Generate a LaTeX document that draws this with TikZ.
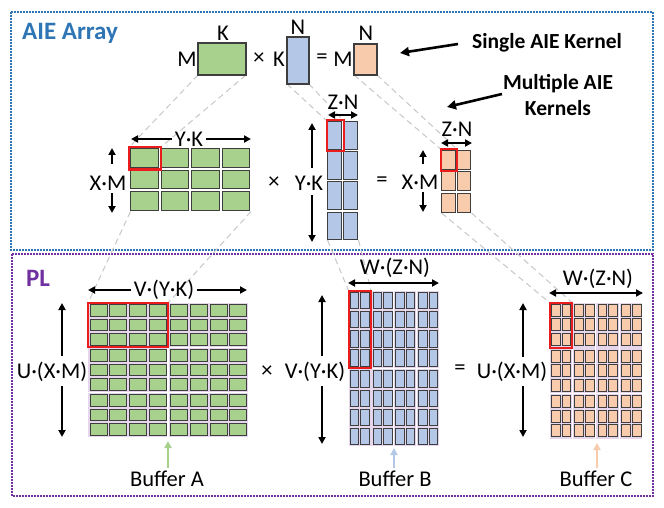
\documentclass[tikz,border=0pt]{standalone}
\usepackage{fontspec}
\setmainfont{Carlito}
\usetikzlibrary{arrows.meta}
\definecolor{aieblue}{RGB}{46,117,182}
\definecolor{plpurple}{RGB}{112,48,160}
\definecolor{tgreen}{RGB}{169,209,142}
\definecolor{tblue}{RGB}{180,199,231}
\definecolor{torange}{RGB}{248,203,173}
\definecolor{lav}{RGB}{230,214,236}
\definecolor{tedge}{RGB}{62,62,62}
\definecolor{projgray}{RGB}{200,200,200}
\definecolor{redbox}{RGB}{235,28,28}
\newcommand\tgrid[9]{%
  \foreach \ii in {1,...,#3}{\foreach \jj in {1,...,#4}{%
    \filldraw[fill=#9, draw=tedge, line width=0.9pt]
      ({#1+(\ii-1)*#5},{#2+(\jj-1)*#6}) rectangle ++(#7,#8);
  }}}
\tikzset{
  arr/.style={line width=2pt, -{Triangle[length=7pt,width=7pt]}},
  darr/.style={line width=2pt, {Triangle[length=7pt,width=7pt]}-{Triangle[length=7pt,width=7pt]}},
  bigarr/.style={line width=2.6pt, -{Triangle[length=9pt,width=9pt]}},
  bufarr/.style={line width=2pt, -{Triangle[length=7pt,width=7pt]}},
  lbl/.style={font=\fontsize{22.5}{25}\selectfont, inner sep=3pt},
  note/.style={font=\bfseries\fontsize{21.5}{25}\selectfont, align=center, inner sep=0pt},
  topbox/.style={draw=tedge, line width=1.1pt, inner sep=0pt, outer sep=0pt},
  rbox/.style={draw=redbox, line width=2pt, inner sep=0pt, outer sep=0pt},
  proj/.style={draw=projgray, line width=1pt, dash pattern=on 6pt off 4pt},
  region/.style={line width=1.8pt, dash pattern=on 1.6pt off 1.4pt},
}
\begin{document}
\begin{tikzpicture}[x=1pt, y=-1pt]
\useasboundingbox (0,0) rectangle (664,508);
\fill[white] (0,0) rectangle (664,508);

% region frames
\draw[region, aieblue] (11,12) rectangle (653,250);
\draw[region, plpurple] (12,254) rectangle (653,496);
\node[anchor=west, text=aieblue, font=\bfseries\fontsize{25}{28}\selectfont, inner sep=0pt] (aietitle) at (22,33) {AIE Array};
\node[anchor=west, text=plpurple, font=\bfseries\fontsize{25}{28}\selectfont, inner sep=0pt] (pltitle) at (26,278) {PL};

% nodes used as ends of projection lines
\node[topbox, fill=tgreen, minimum width=48pt, minimum height=32pt] (topA) at (222,59) {};
\node[topbox, fill=tblue, minimum width=22pt, minimum height=47pt] (topB) at (298,60.5) {};
\node[topbox, fill=torange, minimum width=23pt, minimum height=31pt] (topC) at (365.5,59.5) {};

\coordinate (gAsw) at (130.5,211.5); \coordinate (gAse) at (251,211.5);
\coordinate (gBsw) at (327.5,240);   \coordinate (gBse) at (358.5,240);
\coordinate (gCsw) at (441.5,213);   \coordinate (gCse) at (471.5,213);

\path (144.75,158.5) node[minimum width=31.5pt, minimum height=22pt, inner sep=0pt, outer sep=0pt] (redA) {};
\path (335,136) node[minimum width=17pt, minimum height=31pt, inner sep=0pt, outer sep=0pt] (redB) {};
\path (448.75,160) node[minimum width=16.5pt, minimum height=22pt, inner sep=0pt, outer sep=0pt] (redC) {};
\path (128,325) node[minimum width=80pt, minimum height=44pt, inner sep=0pt, outer sep=0pt] (redPA) {};
\path (359.75,329.25) node[minimum width=22.5pt, minimum height=77.5pt, inner sep=0pt, outer sep=0pt] (redPB) {};
\path (560.75,325.25) node[minimum width=22.5pt, minimum height=45.5pt, inner sep=0pt, outer sep=0pt] (redPC) {};

% projection lines
\draw[proj] (topA.south west) -- (redA.north west);
\draw[proj] (topA.south east) -- (redA.north east);
\draw[proj] (gAsw) -- (redPA.north west);
\draw[proj] (gAse) -- (redPA.north east);
\draw[proj] (topB.south west) -- (redB.north west);
\draw[proj] (topB.south east) -- (redB.north east);
\draw[proj] (gBsw) -- (redPB.north west);
\draw[proj] (gBse) -- (redPB.north east);
\draw[proj] (topC.south west) -- (redC.north west);
\draw[proj] (topC.south east) -- (redC.north east);
\draw[proj] (gCsw) -- (redPC.north west);
\draw[proj] (gCse) -- (redPC.north east);

% redraw top boxes over lines
\node[topbox, fill=tgreen, minimum width=48pt, minimum height=32pt] at (topA) {};
\node[topbox, fill=tblue, minimum width=22pt, minimum height=47pt] at (topB) {};
\node[topbox, fill=torange, minimum width=23pt, minimum height=31pt] at (topC) {};

% top labels
\node[lbl] (kA) at (223,33) {K};
\node[lbl] (mA) at (187,59) {M};
\node[lbl] (x1) at (259,59) {×};
\node[lbl] (kB) at (279,59) {K};
\node[lbl] (nB) at (298,27) {N};
\node[lbl] (eq1) at (322,59) {=};
\node[lbl] (mC) at (343,59) {M};
\node[lbl] (nC) at (366,33) {N};

% annotations
\node[note] (single) at (547,43) {Single AIE Kernel};
\node[note] (multi) at (558,95) {Multiple AIE\\[1pt]Kernels};
\coordinate (sgTip) at (400,53); \coordinate (sgTail) at (458,44);
\coordinate (mlTip) at (447,107); \coordinate (mlTail) at (502,94);
\draw[bigarr] (sgTail) -- (sgTip);
\draw[bigarr] (mlTail) -- (mlTip);

% middle grids
\tgrid{130.5}{148.5}{4}{3}{30.6}{21.6}{27.5}{18.5}{tgreen}
\tgrid{327.5}{121.5}{2}{4}{16}{30.2}{13.8}{27.5}{tblue}
\tgrid{441.5}{150}{2}{3}{15.5}{21.5}{13.5}{19}{torange}
\draw[rbox] (redA.north west) rectangle (redA.south east);
\draw[rbox] (redB.north west) rectangle (redB.south east);
\draw[rbox] (redC.north west) rectangle (redC.south east);

% middle labels
\node[lbl] (ykA) at (189,139) {Y·K};
\coordinate (ykAl) at (131,139); \coordinate (ykAr) at (251,139);
\draw[arr] (ykA.west) -- (ykAl);
\draw[arr] (ykA.east) -- (ykAr);

\node[lbl] (xmA) at (108,183) {X·M};
\coordinate (xmAt0) at (112,164); \coordinate (xmAt) at (112,148);
\coordinate (xmAb0) at (112,193); \coordinate (xmAb) at (112,213);
\draw[arr] (xmAt0) -- (xmAt); \draw[arr] (xmAb0) -- (xmAb);

\node[lbl] (x2) at (274,183) {×};

\node[lbl] (ykB) at (309,183) {Y·K};
\coordinate (ykBt0) at (312,168); \coordinate (ykBt) at (312,123);
\coordinate (ykBb0) at (312,195); \coordinate (ykBb) at (312,242);
\draw[arr] (ykBt0) -- (ykBt); \draw[arr] (ykBb0) -- (ykBb);

\node[lbl] (znB) at (343,102) {Z·N};
\coordinate (znBl) at (328,115); \coordinate (znBr) at (358,115);
\draw[darr] (znBl) -- (znBr);

\node[lbl] (eq2) at (382,182) {=};

\node[lbl] (xmC) at (420,182) {X·M};
\coordinate (xmCt0) at (423,164); \coordinate (xmCt) at (423,150);
\coordinate (xmCb0) at (423,192); \coordinate (xmCb) at (423,212);
\draw[arr] (xmCt0) -- (xmCt); \draw[arr] (xmCb0) -- (xmCb);

\node[lbl] (znC) at (457,129) {Z·N};
\coordinate (znCl) at (441,143); \coordinate (znCr) at (472,143);
\draw[darr] (znCl) -- (znCr);

% PL green
\foreach \bc in {0,1}{\foreach \br in {0,1,2}{
  \pgfmathsetmacro\bx{88+\bc*80.5}\pgfmathsetmacro\by{303+\br*45}
  \fill[lav] (\bx,\by) rectangle ++(79,44);
  \tgrid{\bx+2}{\by+1.8}{4}{3}{19.8}{14.5}{17}{11.6}{tgreen}
}}
% PL blue
\foreach \bc in {0,...,3}{\foreach \br in {0,1}{
  \pgfmathsetmacro\bx{348.5+\bc*22.8}\pgfmathsetmacro\by{290.5+\br*78.5}
  \fill[lav] (\bx,\by) rectangle ++(22,77);
  \tgrid{\bx+1.8}{\by+1.8}{2}{4}{10.5}{19.2}{8.4}{16.3}{tblue}
}}
% PL orange
\foreach \bc in {0,...,3}{\foreach \br in {0,1,2}{
  \pgfmathsetmacro\bx{549.5+\bc*23.4}\pgfmathsetmacro\by{302.5+\br*45.7}
  \fill[lav] (\bx,\by) rectangle ++(22.5,45);
  \tgrid{\bx+1.8}{\by+1.8}{2}{3}{10.8}{14.6}{8.8}{12}{torange}
}}
\draw[rbox] (redPA.north west) rectangle (redPA.south east);
\draw[rbox] (redPB.north west) rectangle (redPB.south east);
\draw[rbox] (redPC.north west) rectangle (redPC.south east);

% PL labels
\node[lbl] (vykA) at (164,290) {V·(Y·K)};
\coordinate (vykAl) at (88,290); \coordinate (vykAr) at (247,290);
\draw[arr] (vykA.west) -- (vykAl); \draw[arr] (vykA.east) -- (vykAr);

\node[lbl] (uxmA) at (52,372) {U·(X·M)};
\coordinate (uxmAt0) at (62,356); \coordinate (uxmAt) at (62,303);
\coordinate (uxmAb0) at (62,386); \coordinate (uxmAb) at (62,437);
\draw[arr] (uxmAt0) -- (uxmAt); \draw[arr] (uxmAb0) -- (uxmAb);

\node[lbl] (x3) at (267,372) {×};

\node[lbl] (vykB) at (315,372) {V·(Y·K)};
\coordinate (vykBt0) at (322,356); \coordinate (vykBt) at (322,295);
\coordinate (vykBb0) at (322,386); \coordinate (vykBb) at (322,444);
\draw[arr] (vykBt0) -- (vykBt); \draw[arr] (vykBb0) -- (vykBb);

\node[lbl] (wznB) at (395,268) {W·(Z·N)};
\coordinate (wznBl) at (348,283); \coordinate (wznBr) at (439,283);
\draw[darr] (wznBl) -- (wznBr);

\node[lbl] (eq3) at (460,370) {=};

\node[lbl] (uxmC) at (512,372) {U·(X·M)};
\coordinate (uxmCt0) at (523,357); \coordinate (uxmCt) at (523,303);
\coordinate (uxmCb0) at (523,386); \coordinate (uxmCb) at (523,437);
\draw[arr] (uxmCt0) -- (uxmCt); \draw[arr] (uxmCb0) -- (uxmCb);

\node[lbl] (wznC) at (598,279) {W·(Z·N)};
\coordinate (wznCl) at (549,293); \coordinate (wznCr) at (643,293);
\draw[darr] (wznCl) -- (wznCr);

% buffers
\node[lbl] (bufA) at (167,479) {Buffer A};
\node[lbl] (bufB) at (395,479) {Buffer B};
\node[lbl] (bufC) at (596,479) {Buffer C};
\coordinate (bAt) at (168,441); \coordinate (bBt) at (394,448); \coordinate (bCt) at (597,443);
\draw[bufarr, tgreen] (bufA.north -| bAt) -- (bAt);
\draw[bufarr, tblue] (bufB.north -| bBt) -- (bBt);
\draw[bufarr, torange] (bufC.north -| bCt) -- (bCt);
\end{tikzpicture}
\end{document}
